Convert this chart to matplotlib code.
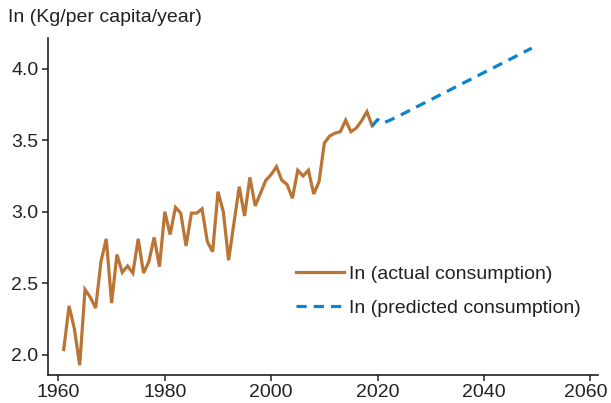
import matplotlib
matplotlib.use("Agg")
import matplotlib.pyplot as plt
import matplotlib.transforms as mtransforms

# Actual per-capita consumption (natural log), 1961-2019
actual_years = list(range(1961, 2020))
actual_values = [
    2.035, 2.34, 2.18, 1.925, 2.455, 2.40, 2.325, 2.65, 2.81, 2.36,
    2.70, 2.575, 2.62, 2.57, 2.81, 2.57, 2.65, 2.82, 2.615, 3.00,
    2.84, 3.03, 2.99, 2.76, 2.99, 2.99, 3.02, 2.79, 2.72, 3.14,
    3.00, 2.66, 2.92, 3.175, 2.97, 3.24, 3.04, 3.13, 3.22, 3.26,
    3.315, 3.22, 3.19, 3.094, 3.29, 3.25, 3.29, 3.124, 3.21, 3.48,
    3.53, 3.55, 3.56, 3.64, 3.56, 3.585, 3.636, 3.70, 3.60,
]

# Predicted per-capita consumption (natural log), 2019-2049
predicted_years = list(range(2019, 2050))
predicted_values = [
    3.60, 3.645, 3.62, 3.635, 3.652, 3.670, 3.689, 3.708, 3.727, 3.746,
    3.765, 3.784, 3.803, 3.822, 3.841, 3.860, 3.879, 3.898, 3.917, 3.936,
    3.955, 3.974, 3.993, 4.012, 4.031, 4.050, 4.069, 4.088, 4.107, 4.126,
    4.145,
]

x_ticks = [1960, 1980, 2000, 2020, 2040, 2060]
y_ticks = [2.0, 2.5, 3.0, 3.5, 4.0]

plt.rcParams["font.family"] = ["Liberation Sans", "DejaVu Sans"]

fig = plt.figure(figsize=(6.11, 4.03), dpi=100)
ax = fig.add_axes([0.0789, 0.0707, 0.8998, 0.835])

ax.plot(actual_years, actual_values, color="#BA7434", lw=2.3,
        label="In (actual consumption)", solid_joinstyle="miter")
ax.plot(predicted_years, predicted_values, color="#0A84CF", lw=2.3,
        linestyle=(0, (3.2, 2.2)), label="In (predicted consumption)")

ax.set_xlim(1958.08, 2061.45)
ax.set_ylim(1.86, 4.216)
ax.set_xticks(x_ticks)
ax.set_yticks(y_ticks)
ax.set_yticklabels([f"{v:.1f}" for v in y_ticks])

for side in ("top", "right"):
    ax.spines[side].set_visible(False)
for side in ("left", "bottom"):
    ax.spines[side].set_linewidth(1.2)
    ax.spines[side].set_color("#222222")

ax.tick_params(axis="both", direction="out", length=4, width=1.1,
               labelsize=14, colors="#222222", pad=3)

# Nudge the last year label left so it stays inside the figure
last_label = ax.get_xticklabels()[-1]
last_label.set_transform(last_label.get_transform() +
                         mtransforms.ScaledTranslation(-5 / 100, 0, fig.dpi_scale_trans))

ax.legend(loc="upper left", bbox_to_anchor=(0.451, 0.325), frameon=False,
          fontsize=14, handlelength=2.45, handletextpad=0.25,
          labelspacing=0.87, borderpad=0, borderaxespad=0,
          labelcolor="#222222")

fig.text(8 / 611, 1 - 18 / 403, "In (Kg/per capita/year)", fontsize=14,
         va="center", ha="left", color="#222222")

fig.savefig("out.png", dpi=100)
